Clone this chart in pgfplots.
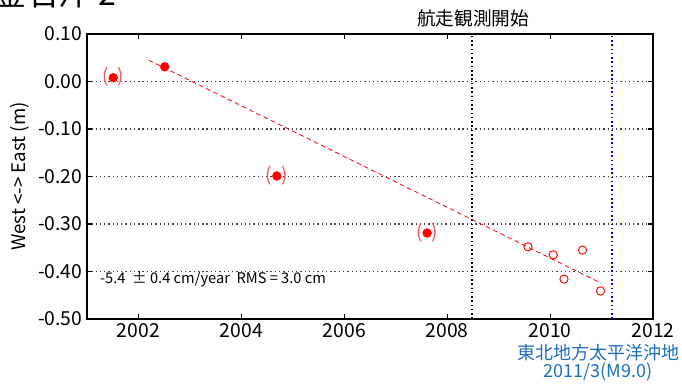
\documentclass[border=0pt]{standalone}
\usepackage{pgfplots}
\pgfplotsset{compat=1.18}
\usepackage{fontspec}
\setmainfont{Noto Sans CJK JP}
\definecolor{eqblue}{RGB}{30,110,190}
\definecolor{parred}{RGB}{255,80,80}
\begin{document}
\begin{tikzpicture}
\begin{axis}[
  at={(65.25pt,48.75pt)}, anchor=south west,
  scale only axis, width=424.5pt, height=213.75pt,
  xmin=2001, xmax=2012, ymin=-0.5, ymax=0.1,
  xtick={2002,2004,2006,2008,2010,2012},
  ytick={-0.5,-0.4,-0.3,-0.2,-0.1,0,0.1},
  /pgf/number format/assume math mode=true,
  yticklabel style={/pgf/number format/.cd, fixed, fixed zerofill, precision=2},
  xticklabel style={/pgf/number format/1000 sep={}},
  ticklabel style={font=\fontsize{14.5}{16}\selectfont},
  tick align=inside, major tick length=4pt,
  tick style={black, line width=0.8pt},
  axis line style={line width=1.1pt},
  ymajorgrids, grid style={black!75, line width=0.9pt, dash pattern=on 1pt off 2.2pt},
  ylabel={West <-> East (m)},
  ylabel style={font=\fontsize{14}{16}\selectfont},
  clip=false,
]
\addplot[black, line width=1.5pt, dash pattern=on 1.2pt off 2pt] coordinates {(2008.49,-0.5) (2008.49,0.1)};
\addplot[blue, line width=1.4pt, dash pattern=on 1.2pt off 2pt] coordinates {(2011.21,-0.5) (2011.21,0.1)};
\addplot[red, line width=0.6pt, dash pattern=on 3.5pt off 2.5pt] coordinates {(2002.2,0.045) (2011.0,-0.425)};
\addplot[red, only marks, mark=*, mark size=3.3pt,
  nodes near coords={\textcolor{parred}{(\hspace{7pt})}},
  every node near coord/.append style={anchor=center, font=\fontsize{14}{14}\selectfont, yshift=0.5pt}]
  coordinates {(2001.51,0.008) (2004.69,-0.199) (2007.61,-0.319)};
\addplot[red, only marks, mark=*, mark size=3.3pt] coordinates {(2002.51,0.031)};
\addplot[red, only marks, mark=o, mark size=3.1pt, line width=0.7pt]
  coordinates {(2009.57,-0.348) (2010.06,-0.365) (2010.27,-0.416) (2010.63,-0.355) (2010.98,-0.441)};
\node[anchor=west, font=\fontsize{11}{12}\selectfont, inner sep=0pt] at (axis cs:2001.25,-0.416) {-5.4\ \ ±\ 0.4 cm/year\ \ RMS =\ 3.0 cm};
\end{axis}
\node[font=\fontsize{14}{16}\selectfont] at (354.75pt,274.5pt) {航走観測開始};
\node[font=\fontsize{13.5}{15}\selectfont, text=eqblue, align=center, inner sep=0pt] at (448.5pt,16pt) {東北地方太平洋沖地\\[-2pt]2011/3(M9.0)};
\node[anchor=base west, font=\fontsize{24}{26}\selectfont, inner sep=0pt] at (-4pt,284pt) {釜石沖 2};
\pgfresetboundingbox
\path[use as bounding box] (0,0) rectangle (511.5pt,288pt);
\end{tikzpicture}
\end{document}
